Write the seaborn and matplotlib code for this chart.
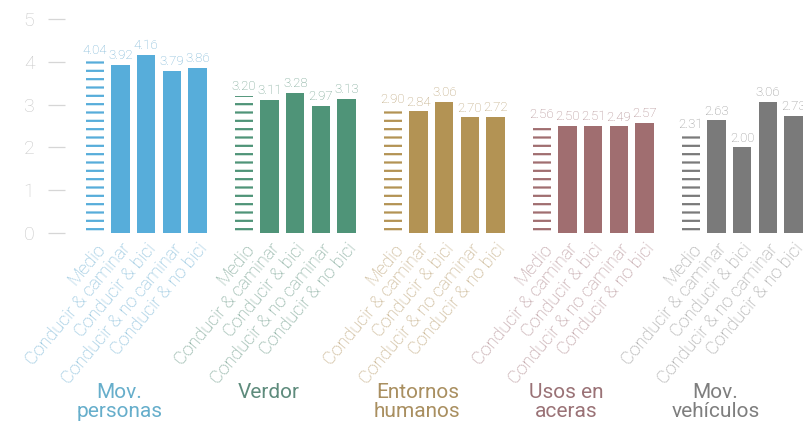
import numpy as np
import pandas as pd
import matplotlib
matplotlib.use("Agg")
import matplotlib.pyplot as plt
import seaborn as sns

# =====================
# datos
# =====================
grupos = ["Mov.\npersonas", "Verdor", "Entornos\nhumanos", "Usos en\naceras", "Mov.\nvehículos"]
tipos = ["Medio", "Conducir & caminar", "Conducir & bici",
         "Conducir & no caminar", "Conducir & no bici"]

mov_personas = [4.04, 3.92, 4.16, 3.79, 3.86]
verdor = [3.20, 3.11, 3.28, 2.97, 3.13]
entornos = [2.90, 2.84, 3.06, 2.70, 2.72]
usos_aceras = [2.56, 2.50, 2.51, 2.49, 2.57]
mov_vehiculos = [2.31, 2.63, 2.00, 3.06, 2.73]

valores = [mov_personas, verdor, entornos, usos_aceras, mov_vehiculos]

col_barra = ["#57ADDA", "#4F9478", "#B39354", "#A06E70", "#7A7A7A"]
col_tick = ["#84BCDA", "#79A393", "#C0A87E", "#B69398", "#9E9E9E"]
col_valor = ["#74B2D4", "#6F9F8C", "#B9A073", "#AD888B", "#929292"]
col_titulo = ["#66AECB", "#5E8B7C", "#A98F60", "#9A7276", "#7E7E7E"]

SEP = 5.82   # distancia entre grupos (en anchos de barra)

rows = []
for g, (nombre, vals) in enumerate(zip(grupos, valores)):
    for i, (t, v) in enumerate(zip(tipos, vals)):
        rows.append({"x": g * SEP + i, "valor": v, "grupo": nombre, "tipo": t})
df = pd.DataFrame(rows)

# =====================
# plot
# =====================
sns.set_style("white")
plt.rcParams["font.family"] = ["Roboto", "DejaVu Sans"]
plt.rcParams["hatch.linewidth"] = 1.6

fig = plt.figure(figsize=(8.04, 4.24), dpi=100)
ax = fig.add_axes([65 / 804, 191 / 424, 739 / 804, 214 / 424])

sns.barplot(data=df, x="x", y="valor", hue="grupo", palette=col_barra,
            native_scale=True, width=0.72, saturation=1, errorbar=None,
            legend=False, linewidth=0, ax=ax)

# barras "Medio" rayadas
medio_x = df.loc[df["tipo"] == "Medio", "x"].values
for p in ax.patches:
    cx = p.get_x() + p.get_width() / 2
    if np.any(np.isclose(cx, medio_x)):
        c = p.get_facecolor()
        p.set_facecolor("white")
        p.set_edgecolor(c)
        p.set_linewidth(0)
        p.set_hatch("--")

# etiquetas de valor
for _, r in df.iterrows():
    g = grupos.index(r["grupo"])
    ax.annotate(f"{r['valor']:.2f}", (r["x"], r["valor"]), xytext=(0, 2),
                textcoords="offset points", ha="center", va="bottom",
                fontsize=9.5, fontweight="light", color=col_valor[g],
                annotation_clip=False)

ax.set_xlim(-30 / 25.6, -30 / 25.6 + 739 / 25.6)
ax.set_ylim(0, 5)
ax.set_yticks(range(6))
ax.tick_params(axis="y", length=12, width=0.9, color="#D6D6D6", pad=10,
               labelsize=14, labelcolor="#C8C8C8", left=True)
for lab in ax.get_yticklabels():
    lab.set_fontweight("light")

ax.set_xticks(df["x"].values)
ax.set_xticklabels(df["tipo"].values, rotation=50, ha="right",
                   rotation_mode="anchor", fontsize=13, fontweight="light")
ax.tick_params(axis="x", length=0, pad=5)
for lab, nombre in zip(ax.get_xticklabels(), df["grupo"].values):
    lab.set_color(col_tick[grupos.index(nombre)])

ax.set_xlabel("")
ax.set_ylabel("")
sns.despine(ax=ax, left=True, bottom=True)

# titulos de grupo (una linea por texto)
y0 = -165 / 42.8
dy = 19 / 42.8
for g, nombre in enumerate(grupos):
    for k, linea in enumerate(nombre.split("\n")):
        ax.text(g * SEP + 0.95, y0 - k * dy, linea, ha="center", va="baseline",
                fontsize=15, color=col_titulo[g], clip_on=False)

fig.savefig("out.png", dpi=100, facecolor="white")
